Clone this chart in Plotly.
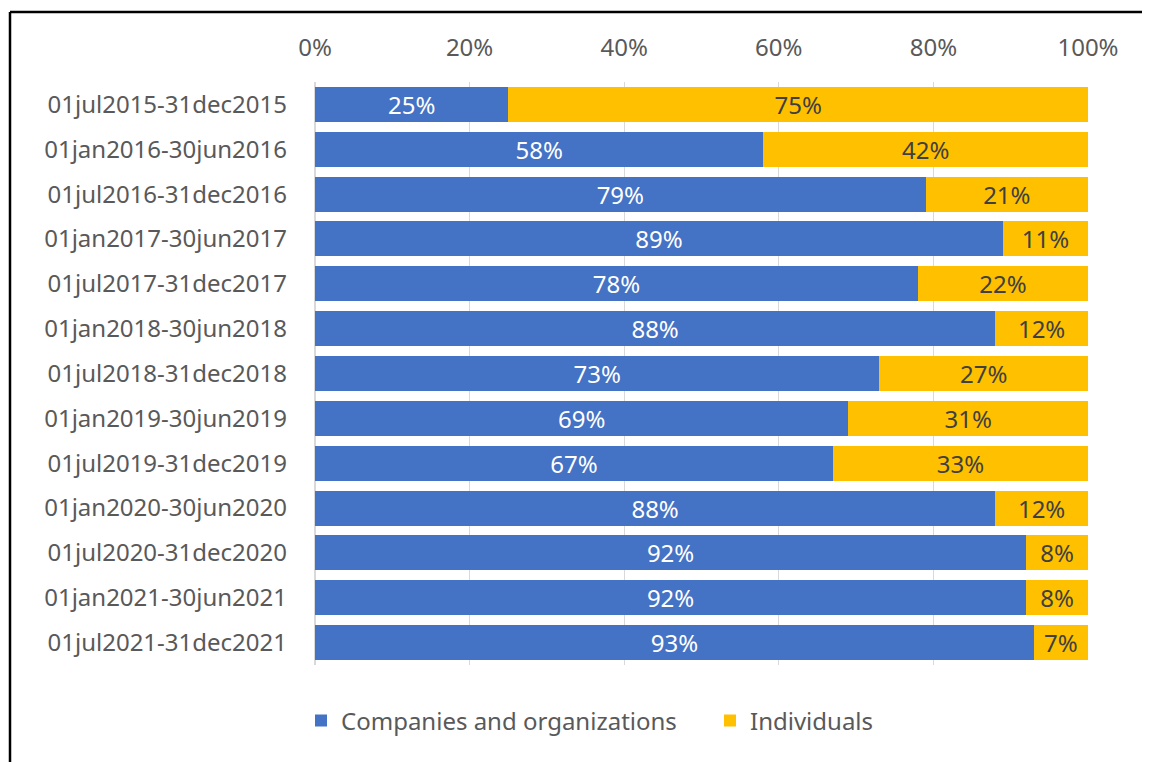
import plotly.graph_objects as go

periods = ["01jul2015-31dec2015", "01jan2016-30jun2016", "01jul2016-31dec2016",
           "01jan2017-30jun2017", "01jul2017-31dec2017", "01jan2018-30jun2018",
           "01jul2018-31dec2018", "01jan2019-30jun2019", "01jul2019-31dec2019",
           "01jan2020-30jun2020", "01jul2020-31dec2020", "01jan2021-30jun2021",
           "01jul2021-31dec2021"]
companies = [25, 58, 79, 89, 78, 88, 73, 69, 67, 88, 92, 92, 93]
individuals = [75, 42, 21, 11, 22, 12, 27, 31, 33, 12, 8, 8, 7]
xticks = [0, 20, 40, 60, 80, 100]

# page body has an 8px margin; work in figure coordinates = reference - 8
OFF = 8
W, H = 1150 - OFF, 762 - OFF
ML, MR, MT, MB = 307, 62, 74, 97
FONT = "Noto Sans, Open Sans, sans-serif"
FS = 24

fig = go.Figure()
fig.add_trace(go.Bar(y=periods, x=companies, orientation="h", name="Companies and organizations",
                     marker=dict(color="#4472C4", line=dict(width=0)),
                     texttemplate="%{x}%", textposition="inside", insidetextanchor="middle",
                     textangle=0, constraintext="none",
                     textfont=dict(color="white", size=FS, family=FONT)))
fig.add_trace(go.Bar(y=periods, x=individuals, orientation="h", name="Individuals",
                     marker=dict(color="#FFC000", line=dict(width=0)),
                     texttemplate="%{x}%", textposition="inside", insidetextanchor="middle",
                     textangle=0, constraintext="none",
                     textfont=dict(color="#404040", size=FS, family=FONT)))

pw = W - ML - MR
ph = H - MT - MB
def px2x(p):
    return (p - OFF - ML) / pw
def py2y(p):
    return 1 - (p - OFF - MT) / ph

fig.update_layout(
    width=W, height=H, barmode="stack", bargap=0.22,
    margin=dict(l=ML, r=MR, t=MT, b=MB),
    paper_bgcolor="white", plot_bgcolor="white",
    font=dict(family=FONT, size=FS, color="#595959"),
    showlegend=True,
    legend=dict(orientation="h", x=px2x(301), xanchor="left", y=py2y(721), yanchor="middle",
                font=dict(size=FS, color="#595959"), itemwidth=30, traceorder="normal",
                entrywidth=364, entrywidthmode="pixels",
                bgcolor="rgba(0,0,0,0)"),
    xaxis=dict(side="top", range=[0, 100], tickvals=xticks,
               ticktext=[f"{v}%" for v in xticks], showgrid=True, gridcolor="#D9D9D9",
               gridwidth=1, zeroline=True, zerolinecolor="#D9D9D9", showline=False,
               ticks="", ticklabelstandoff=20, tickfont=dict(size=FS, color="#595959")),
    yaxis=dict(autorange="reversed", categoryorder="array", categoryarray=periods,
               showgrid=False, ticks="", ticklabelstandoff=27,
               tickfont=dict(size=FS, color="#595959")),
    shapes=[
        dict(type="line", xref="paper", yref="paper", x0=px2x(10), x1=px2x(1160),
             y0=py2y(12), y1=py2y(12), line=dict(color="black", width=2.5)),
        dict(type="line", xref="paper", yref="paper", x0=px2x(10), x1=px2x(10),
             y0=py2y(12), y1=py2y(780), line=dict(color="black", width=2.5)),
    ],
)

fig.write_html("out.html")
